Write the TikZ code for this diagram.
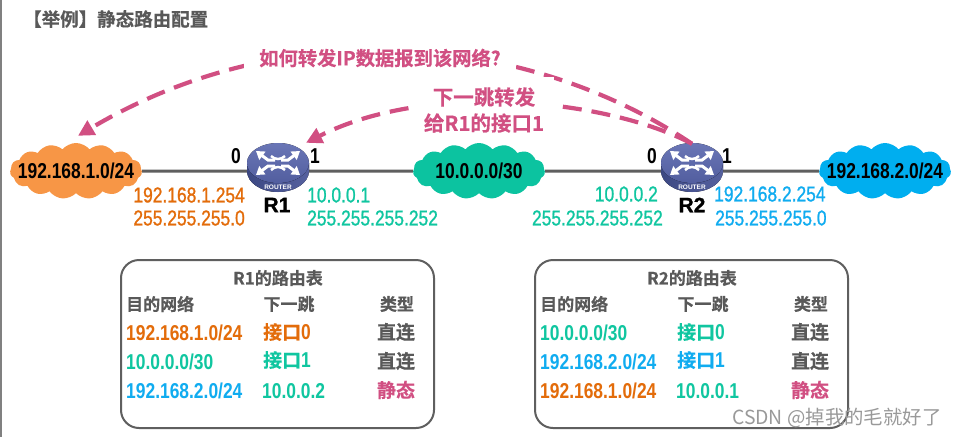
\documentclass[tikz,border=0pt]{standalone}
\usepackage{fontspec}
\usetikzlibrary{arrows.meta,shapes.symbols,shapes.geometric}
\setmainfont{Liberation Sans}
\newfontfamily\narrowbold[FakeStretch=0.81]{Liberation Sans Bold}
\newfontfamily\narrowmid[FakeStretch=0.81,FakeBold=1]{Liberation Sans}
\newfontfamily\rnamefont[FakeBold=1]{Liberation Sans Bold}
\newfontfamily\cjkbold[FakeBold=0.5]{Noto Sans CJK SC Bold}
\newfontfamily\cjkreg{Noto Sans CJK SC}
\definecolor{txtgray}{HTML}{595959}
\definecolor{linegray}{HTML}{5F5F5F}
\definecolor{pinkc}{HTML}{D14F82}
\definecolor{orangec}{HTML}{E36C0A}
\definecolor{tealc}{HTML}{10C6A0}
\definecolor{bluec}{HTML}{10ACF0}
\definecolor{cloudo}{HTML}{F79646}
\definecolor{cloudt}{HTML}{0CC3A0}
\definecolor{cloudb}{HTML}{00AEEF}
\definecolor{rdark}{HTML}{3C4883}
\definecolor{rmid}{HTML}{56619F}
\definecolor{rtop}{HTML}{6A76B6}
\definecolor{rbot}{HTML}{525E9F}
\tikzset{
  netcloud/.style={cloud,cloud puffs=15,cloud puff arc=100,cloud ignores aspect,draw=none,minimum width=132pt,minimum height=56pt,inner sep=0pt},
  nettext/.style={inner sep=0pt,text=black,font=\fontsize{21.5}{22}\narrowbold},
  portlabel/.style={inner sep=0pt,text=black,font=\fontsize{21.5}{22}\narrowbold},
  rname/.style={inner sep=0pt,text=black,font=\fontsize{21}{22}\rnamefont},
  iptext/.style={inner sep=0pt,font=\fontsize{21.5}{22}\narrowmid},
  routeranchor/.style={ellipse,minimum width=62pt,minimum height=54pt,inner sep=0pt,draw=none},
  link/.style={draw=linegray,line width=3pt},
  dasharrow/.style={draw=pinkc,line width=4.2pt,dash pattern=on 19pt off 10pt,-{Triangle[length=16pt,width=16pt]}},
  pinktext/.style={inner xsep=15pt,inner ysep=10pt,fill=white,text=pinkc,font=\fontsize{19.3}{26}\cjkbold,align=center},
  pinktextb/.style={pinktext,inner xsep=10pt,font=\fontsize{20.5}{26}\cjkbold},
  tableframe/.style={draw=linegray,line width=2pt,rounded corners=18pt},
  ttitle/.style={inner sep=0pt,text=txtgray,font=\fontsize{17}{20}\cjkbold},
  thead/.style={inner sep=0pt,text=txtgray,font=\fontsize{17}{20}\cjkbold},
  cellnet/.style={inner sep=0pt,anchor=west,font=\fontsize{21.5}{22}\narrowbold},
  cellhop/.style={inner sep=0pt,anchor=west,font=\fontsize{21.5}{22}\narrowbold},
  cellcjk/.style={inner sep=0pt,anchor=west,font=\fontsize{19}{22}\cjkbold},
  celltype/.style={inner sep=0pt,font=\fontsize{19}{22}\cjkbold},
  pics/routerglyph/.style={code={
    \fill[left color=rdark,right color=rmid] (-31,-5) -- (-31,3) arc[start angle=180,end angle=360,x radius=31pt,y radius=21pt] -- (31,-5) -- cycle;
    \fill[top color=rtop,bottom color=rbot] (0,-5) ellipse[x radius=31pt,y radius=20pt];
    \foreach \sx in {-1,1}{\foreach \sy in {-1,1}{
      \draw[white,line width=3pt,-{Triangle[length=8pt,width=10pt]}] (\sx*3,-5+\sy*3) -- (\sx*10,-5+\sy*3) -- (\sx*22,-5+\sy*12);
    }}
    \draw[white,line width=2.5pt] (-7,-12) .. controls (-3,-8) and (3,-8) .. (7,-12);
    \draw[white,line width=2.5pt] (-7,2) .. controls (-3,-2) and (3,-2) .. (7,2);
    \node[inner sep=0pt,text=white,font=\fontsize{6.5}{7}\bfseries] at (0,19) {ROUTER};
  }}
}
\begin{document}
\begin{tikzpicture}[x=1pt,y=-1pt]
\useasboundingbox (0,0) rectangle (955,437);
\fill[white] (0,0) rectangle (955,437);
\fill[gray] (0,0) rectangle (1.5,437);

\node[inner sep=0pt,anchor=west,text=txtgray,font=\fontsize{18.5}{20}\cjkbold] (title) at (23,19) {【举例】静态路由配置};

% clouds and router anchors
\node[netcloud,fill=cloudo] (c1) at (76,171) {};
\node[netcloud,fill=cloudt] (c2) at (479,171) {};
\node[netcloud,fill=cloudb] (c3) at (885,171) {};
\node[routeranchor] (r1) at (278,171) {};
\node[routeranchor] (r2) at (692,171) {};

\draw[link] (c1) -- (r1);
\draw[link] (r1) -- (c2);
\draw[link] (c2) -- (r2);
\draw[link] (r2) -- (c3);

\pic at (278,168) {routerglyph};
\pic at (692,168) {routerglyph};

\node[nettext] at (c1) {192.168.1.0/24};
\node[nettext] at (c2) {10.0.0.0/30};
\node[nettext] at (c3) {192.168.2.0/24};

% dashed curves
\draw[dasharrow] (r2.north) .. controls (530,35) and (290,10) .. ([shift={(2,-7)}]c1.north);
\draw[dasharrow] (r2.north) .. controls (610,100) and (430,80) .. ([shift={(28,-1)}]r1.north);

\node[pinktext] (q1) at (380,58) {如何转发IP数据报到该网络?};
\node[pinktextb] (q2) at (484,110) {下一跳转发\\给R1的接口1};

% ports and names
\node[portlabel] (p10) at (236,156) {0};
\node[portlabel] (p11) at (315,156) {1};
\node[portlabel] (p20) at (652,156) {0};
\node[portlabel] (p21) at (727,156) {1};
\node[rname] (n1) at (277,205) {R1};
\node[rname] (n2) at (692,205) {R2};

% addresses
\node[iptext,text=orangec,anchor=east] (a1) at (245,195) {192.168.1.254};
\node[iptext,text=orangec,anchor=east] (a2) at (245,218) {255.255.255.0};
\node[iptext,text=tealc,anchor=west] (a3) at (307,195) {10.0.0.1};
\node[iptext,text=tealc,anchor=west] (a4) at (307,218) {255.255.255.252};
\node[iptext,text=tealc,anchor=east] (a5) at (658,194) {10.0.0.2};
\node[iptext,text=tealc,anchor=east] (a6) at (663,218) {255.255.255.252};
\node[iptext,text=bluec,anchor=west] (a7) at (714,194) {192.168.2.254};
\node[iptext,text=bluec,anchor=west] (a8) at (715,218) {255.255.255.0};

% table R1
\draw[tableframe] (121,260) rectangle (434,428);
\node[ttitle] (t1) at (278,278) {R1的路由表};
\node[thead,anchor=west] (h11) at (126,304) {目的网络};
\node[thead] (h12) at (289,304) {下一跳};
\node[thead] (h13) at (397,304) {类型};
\node[cellnet,text=orangec] (d11) at (126,333) {192.168.1.0/24};
\node[cellnet,text=tealc] (d12) at (126,362) {10.0.0.0/30};
\node[cellnet,text=bluec] (d13) at (126,391) {192.168.2.0/24};
\node[cellcjk,text=orangec] (e11) at (263,332) {接口\fontsize{21.5}{22}\narrowbold 0};
\node[cellcjk,text=tealc] (e12) at (263,360) {接口\fontsize{21.5}{22}\narrowbold 1};
\node[cellhop,text=tealc] (e13) at (262,391) {10.0.0.2};
\node[celltype,text=txtgray] (f11) at (396,332) {直连};
\node[celltype,text=txtgray] (f12) at (396,361) {直连};
\node[celltype,text=pinkc] (f13) at (396,390) {静态};

% table R2
\draw[tableframe] (535,260) rectangle (848,428);
\node[ttitle] (t2) at (692,278) {R2的路由表};
\node[thead,anchor=west] (h21) at (540,304) {目的网络};
\node[thead] (h22) at (703,304) {下一跳};
\node[thead] (h23) at (811,304) {类型};
\node[cellnet,text=tealc] (d21) at (540,333) {10.0.0.0/30};
\node[cellnet,text=bluec] (d22) at (540,362) {192.168.2.0/24};
\node[cellnet,text=orangec] (d23) at (540,391) {192.168.1.0/24};
\node[cellcjk,text=tealc] (e21) at (677,332) {接口\fontsize{21.5}{22}\narrowbold 0};
\node[cellcjk,text=bluec] (e22) at (677,360) {接口\fontsize{21.5}{22}\narrowbold 1};
\node[cellhop,text=tealc] (e23) at (676,391) {10.0.0.1};
\node[celltype,text=txtgray] (f21) at (810,332) {直连};
\node[celltype,text=txtgray] (f22) at (810,361) {直连};
\node[celltype,text=pinkc] (f23) at (810,390) {静态};

\node[inner sep=0pt,anchor=west,text=black!40,font=\fontsize{19.4}{20}\cjkreg] (wm) at (732,418) {CSDN @掉我的毛就好了};
\end{tikzpicture}
\end{document}
